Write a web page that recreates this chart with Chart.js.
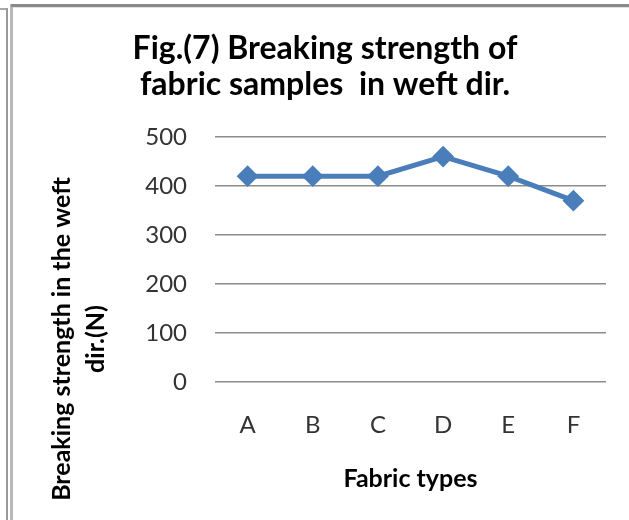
<!DOCTYPE html>
<html>
<head>
<meta charset="utf-8">
<script src="https://cdn.jsdelivr.net/npm/chart.js@4.4.0/dist/chart.umd.min.js"></script>
<style>
  body { margin: 0; background: #fff; }
  #wrap { position: relative; width: 629px; height: 520px; overflow: hidden; }
  #chart { position: absolute; left: 0; top: 0; }
  .ln { position: absolute; }
</style>
</head>
<body>
<div id="wrap">
  <canvas id="chart" width="629" height="520"></canvas>
  <!-- Rahmen links / oben -->
  <div class="ln" style="left:0;top:8px;width:7px;height:2px;background:#a8a8a8"></div>
  <div class="ln" style="left:6px;top:8px;width:2px;height:512px;background:#9a9a9a"></div>
  <div class="ln" style="left:10px;top:4px;width:3px;height:516px;background:#b8b8b8"></div>
  <div class="ln" style="left:11px;top:4px;width:618px;height:3px;background:#8a8a8a"></div>
  <div class="ln" style="left:13px;top:7px;width:616px;height:1px;background:#e0e0e0"></div>
</div>
<script>
// Daten
const categories = ["A", "B", "C", "D", "E", "F"];
const strengthValues = [420, 420, 420, 460, 420, 370];
const yTicks = [0, 100, 200, 300, 400, 500];

const titleLines = ["Fig.(7) Breaking strength of", "fabric samples  in weft dir."];
const yTitleLines = ["Breaking strength in the weft", "dir.(N)"];
const xTitle = "Fabric types";

// Y-Achsentitel selbst zeichnen (zweizeilig, gedreht)
const yTitlePlugin = {
  id: "yTitle",
  afterDraw(chart) {
    const c = chart.ctx;
    c.save();
    c.fillStyle = "#000";
    c.font = "bold 25px Lato";
    c.textAlign = "center";
    c.textBaseline = "alphabetic";
    const xs = [70, 104];
    yTitleLines.forEach((t, i) => {
      c.save();
      c.translate(xs[i], 339);
      c.rotate(-Math.PI / 2);
      c.fillText(t, 0, 0);
      c.restore();
    });
    c.restore();
  },
};

const ctx = document.querySelector("#chart").getContext("2d");

new Chart(ctx, {
  type: "line",
  data: {
    labels: categories,
    datasets: [
      {
        data: strengthValues,
        borderColor: "#4a7ebb",
        backgroundColor: "#4a7ebb",
        borderWidth: 5,
        fill: false,
        tension: 0,
        pointStyle: "rectRot",
        pointRadius: 9.5,
        pointBorderWidth: 2,
        pointBackgroundColor: "#4a7ebb",
        pointBorderColor: "#4a7ebb",
      },
    ],
  },
  options: {
    responsive: false,
    animation: false,
    layout: { padding: { top: 0, right: 23, bottom: 0, left: 44 } },
    scales: {
      x: {
        offset: true,
        grid: { display: false },
        border: { display: false },
        ticks: { color: "#333", font: { family: "Lato", size: 24 }, padding: 21 },
        title: {
          display: true,
          text: xTitle,
          color: "#000",
          font: { family: "Lato", size: 25, weight: "bold" },
          padding: { top: 0, bottom: 26 },
        },
        afterFit: (s) => {
          s.height = 138;
          s.paddingLeft = 0;
          s.paddingRight = 0;
        },
      },
      y: {
        min: 0,
        max: 500,
        afterBuildTicks: (s) => { s.ticks = yTicks.map((v) => ({ value: v })); },
        grid: { color: "#8c8c8c", lineWidth: 1.5, drawTicks: false },
        border: { display: false },
        ticks: { color: "#333", font: { family: "Lato", size: 24 }, padding: 28 },
        afterFit: (s) => { s.width = 171; },
      },
    },
    plugins: {
      legend: { display: false },
      tooltip: { enabled: false },
      title: {
        display: true,
        text: titleLines,
        color: "#000",
        font: { family: "Lato", size: 32, weight: "bold", lineHeight: 1.125 },
        padding: { top: 31, bottom: 34 },
      },
    },
  },
  plugins: [yTitlePlugin],
});
</script>
</body>
</html>
